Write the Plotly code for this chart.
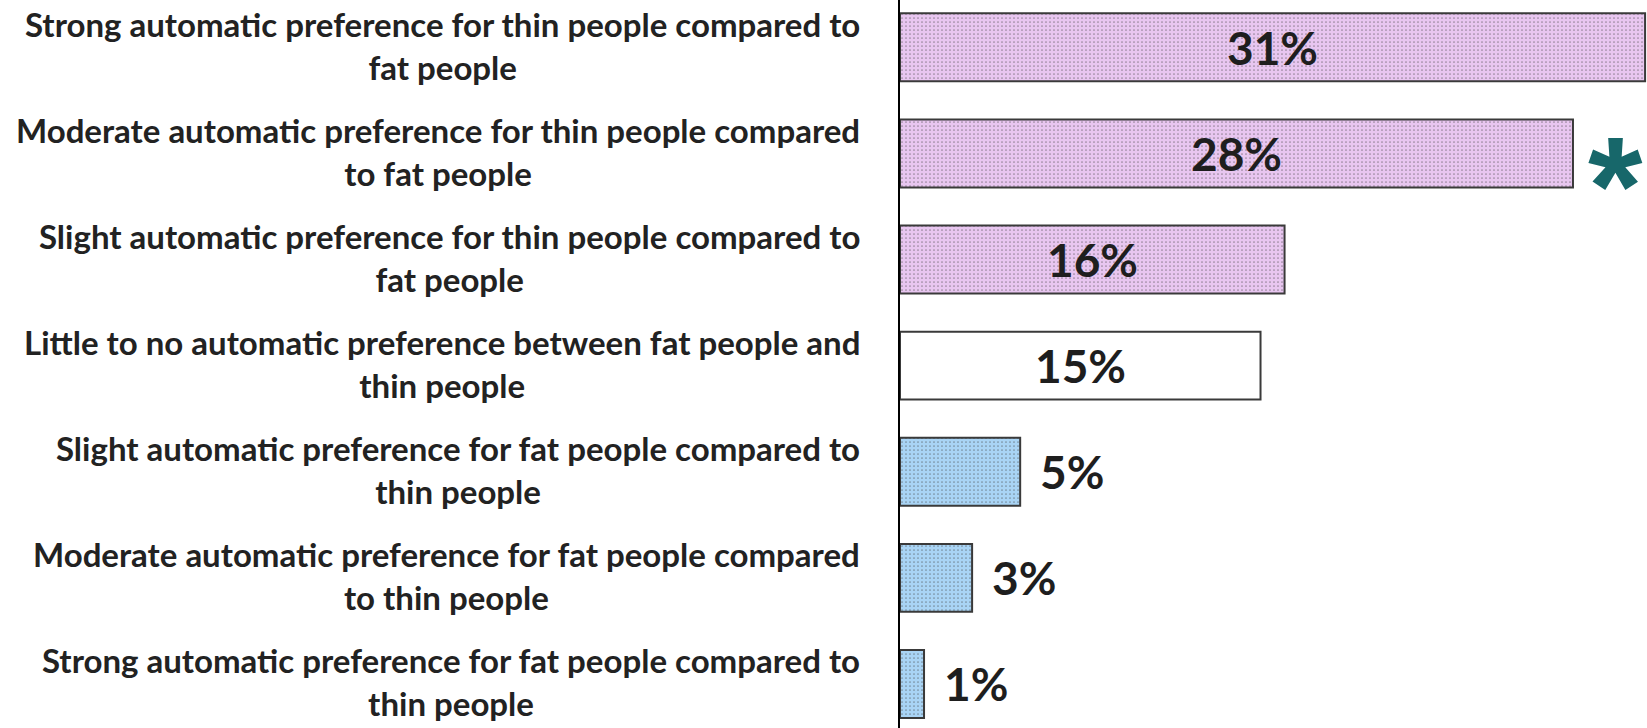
import plotly.graph_objects as go

categories = [
    "Strong automatic preference for thin people compared to<br>fat people",
    "Moderate automatic preference for thin people compared<br>to fat people",
    "Slight automatic preference for thin people compared to<br>fat people",
    "Little to no automatic preference between fat people and<br>thin people",
    "Slight automatic preference for fat people compared to<br>thin people",
    "Moderate automatic preference for fat people compared<br>to thin people",
    "Strong automatic preference for fat people compared to<br>thin people",
]
values = [31, 28, 16, 15, 5, 3, 1]
value_labels = ["31%", "28%", "16%", "15%", "5%", "3%", "1%"]
label_inside = [True, True, True, True, False, False, False]
colors = ["#e8c6f0", "#e8c6f0", "#e8c6f0", "#ffffff", "#a9d4f5", "#a9d4f5", "#a9d4f5"]
pattern_fg = ["#d8b2e0", "#d8b2e0", "#d8b2e0", "#ffffff", "#98c4e8", "#98c4e8", "#98c4e8"]
pattern_shape = [".", ".", ".", "", ".", ".", "."]
starred_index = 1

LABEL_FONT = "Lato, sans-serif"

idx = list(range(len(categories)))

fig = go.Figure()
fig.add_trace(go.Bar(
    x=values,
    y=idx,
    orientation="h",
    width=0.64,
    marker=dict(
        color=colors,
        line=dict(color="#3a3a3a", width=2),
        pattern=dict(shape=pattern_shape, fgcolor=pattern_fg, bgcolor=colors, size=4, solidity=0.15),
    ),
    hoverinfo="skip",
    showlegend=False,
))

annotations = []
for i, (cat, v, lab, inside) in enumerate(zip(categories, values, value_labels, label_inside)):
    annotations.append(dict(
        xref="paper", yref="y", x=0, y=i, xanchor="right", yanchor="middle",
        xshift=-38, yshift=2, text="<b>" + cat + "</b>", showarrow=False, align="center",
        font=dict(family=LABEL_FONT, size=33, color="#222222"),
    ))
    if inside:
        annotations.append(dict(
            xref="x", yref="y", x=v / 2, y=i, xanchor="center", yanchor="middle",
            text="<b>" + lab + "</b>", showarrow=False,
            font=dict(family=LABEL_FONT, size=46, color="#1e1e1e"),
        ))
    else:
        annotations.append(dict(
            xref="x", yref="y", x=v, y=i, xanchor="left", yanchor="middle",
            xshift=18, text="<b>" + lab + "</b>", showarrow=False,
            font=dict(family=LABEL_FONT, size=46, color="#1e1e1e"),
        ))

annotations.append(dict(
    xref="x", yref="y", x=values[starred_index], y=starred_index,
    xanchor="center", yanchor="middle", xshift=43, yshift=-32,
    text="<b>*</b>", showarrow=False,
    font=dict(family="Liberation Sans, Arial, sans-serif", size=140, color="#17676a"),
))

fig.update_layout(
    width=1647, height=728,
    margin=dict(l=900, r=0, t=0, b=0),
    paper_bgcolor="white", plot_bgcolor="white",
    annotations=annotations,
)
fig.update_xaxes(range=[0, 31.08], showgrid=False, zeroline=False, showticklabels=False, showline=False)
fig.update_yaxes(range=[6.415, -0.446], showgrid=False, zeroline=False, showticklabels=False,
                 showline=True, linecolor="#000000", linewidth=2)

fig.write_html("out.html", config={"displayModeBar": False},
               post_script="document.body.style.margin='0';")
